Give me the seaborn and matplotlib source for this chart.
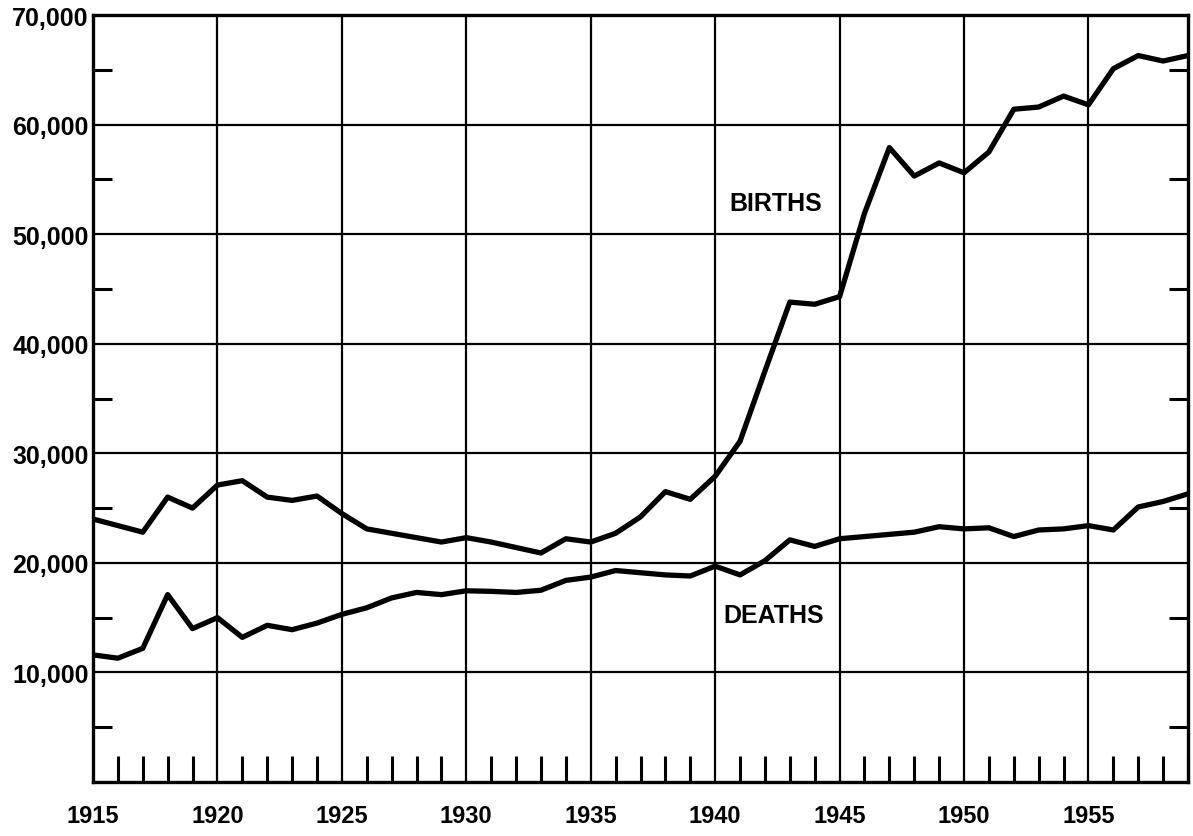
import matplotlib
matplotlib.use("Agg")
import matplotlib.pyplot as plt
import seaborn as sns
import pandas as pd
from matplotlib.ticker import FixedLocator, FuncFormatter

years = list(range(1915, 1960))
births = [24000, 23400, 22800, 26000, 25000, 27100, 27500, 26000, 25700, 26100,
          24500, 23100, 22700, 22300, 21900, 22300, 21900, 21400, 20900, 22200,
          21900, 22700, 24200, 26500, 25800, 27900, 31100, 37500, 43800, 43600,
          44300, 51900, 57900, 55300, 56500, 55600, 57500, 61400, 61600, 62600,
          61800, 65100, 66300, 65800, 66300]
deaths = [11600, 11300, 12200, 17100, 14000, 15000, 13200, 14300, 13900, 14500,
          15300, 15900, 16800, 17300, 17100, 17450, 17400, 17300, 17500, 18400,
          18700, 19300, 19100, 18900, 18800, 19700, 18900, 20200, 22100, 21500,
          22200, 22400, 22600, 22800, 23300, 23100, 23200, 22400, 23000, 23100,
          23400, 23000, 25100, 25600, 26300]
series_labels = ["BIRTHS", "DEATHS"]
x_major = [1915, 1920, 1925, 1930, 1935, 1940, 1945, 1950, 1955]
y_major = [10000, 20000, 30000, 40000, 50000, 60000, 70000]

df = pd.DataFrame({
    "year": years * 2,
    "value": births + deaths,
    "series": [series_labels[0]] * len(years) + [series_labels[1]] * len(years),
})

sns.set_style("white")
plt.rcParams['font.family'] = ['Liberation Sans', 'DejaVu Sans']
plt.rcParams['text.color'] = 'black'
plt.rcParams['xtick.color'] = 'black'
plt.rcParams['ytick.color'] = 'black'
plt.rcParams['axes.edgecolor'] = 'black'

fig = plt.figure(figsize=(11.93, 8.37), dpi=100)
ax = fig.add_axes([93 / 1193, 1 - 783 / 837, (1188 - 93) / 1193, (783 - 16) / 837])

sns.lineplot(data=df, x="year", y="value", hue="series",
             palette={"BIRTHS": "black", "DEATHS": "black"},
             linewidth=3.8, legend=False, ax=ax, zorder=5,
             solid_joinstyle="round", solid_capstyle="round")

ax.set_xlim(1915, 1959)
ax.set_ylim(0, 70000)
ax.set_xlabel("")
ax.set_ylabel("")

for xv in x_major[1:]:
    ax.axvline(xv, color="black", linewidth=1.6, zorder=1)
for yv in y_major:
    ax.axhline(yv, color="black", linewidth=1.6, zorder=1)

for s in ax.spines.values():
    s.set_linewidth(2.4)
    s.set_color("black")

ax.xaxis.set_major_locator(FixedLocator(x_major))
ax.yaxis.set_major_locator(FixedLocator(y_major))
ax.xaxis.set_minor_locator(FixedLocator([y for y in years if y % 5 != 0]))
ax.yaxis.set_minor_locator(FixedLocator([v for v in range(5000, 70000, 10000)]))
ax.yaxis.set_major_formatter(FuncFormatter(lambda v, p: f"{int(v):,}"))
ax.xaxis.set_major_formatter(FuncFormatter(lambda v, p: f"{int(v)}"))

ax.tick_params(axis="x", which="major", length=0, pad=16, labelsize=17,
               labelcolor="black")
ax.tick_params(axis="y", which="major", length=0, pad=3, labelsize=18,
               labelcolor="black")
ax.tick_params(axis="x", which="minor", direction="in", length=18.5, width=2.2,
               bottom=True, top=False, color="black")
ax.tick_params(axis="y", which="minor", direction="in", length=13.5, width=2.2,
               left=True, right=True, color="black")
for lab in ax.get_xticklabels() + ax.get_yticklabels():
    lab.set_fontweight("bold")

ax.annotate("BIRTHS", xy=(776 / 1193, 1 - 204 / 837), xycoords="figure fraction",
            fontsize=18, fontweight="bold", ha="center", va="center", color="black")
ax.annotate("DEATHS", xy=(774 / 1193, 1 - 616 / 837), xycoords="figure fraction",
            fontsize=18, fontweight="bold", ha="center", va="center", color="black")

fig.savefig("out.png", dpi=100, facecolor="white")
